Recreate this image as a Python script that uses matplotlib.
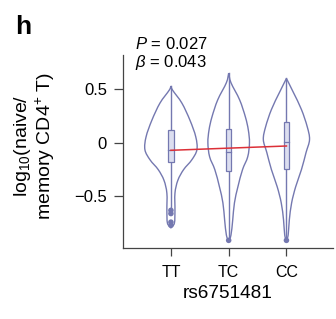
import numpy as np
import matplotlib.pyplot as plt
from matplotlib.path import Path
from matplotlib.patches import PathPatch, Rectangle

plt.rcParams["font.family"] = ["Liberation Sans", "DejaVu Sans"]
plt.rcParams["mathtext.fontset"] = "custom"
plt.rcParams["mathtext.rm"] = "Liberation Sans"
plt.rcParams["mathtext.it"] = "Liberation Sans:italic"

GENOTYPES = ["TT", "TC", "CC"]

# violin outlines: (value, half width in x units)
VIOLIN_Y = [
    [0.53, 0.49, 0.37, 0.21, 0.056, -0.065, -0.16, -0.25, -0.35, -0.47, -0.63, -0.75, -0.79],
    [0.65, 0.56, 0.40, 0.24, 0.12, 0.0, -0.13, -0.25, -0.41, -0.56, -0.72, -0.86, -0.92],
    [0.60, 0.47, 0.31, 0.15, 0.03, -0.09, -0.25, -0.41, -0.56, -0.72, -0.86, -0.91],
]
VIOLIN_W = [
    [0.0, 0.03, 0.19, 0.33, 0.43, 0.45, 0.36, 0.22, 0.12, 0.07, 0.07, 0.06, 0.0],
    [0.0, 0.04, 0.19, 0.29, 0.34, 0.36, 0.33, 0.24, 0.16, 0.10, 0.07, 0.04, 0.0],
    [0.0, 0.12, 0.26, 0.36, 0.40, 0.34, 0.26, 0.16, 0.09, 0.05, 0.03, 0.0],
]

# box stats: q1, median, q3, whisker low, whisker high
Q1 = [-0.18, -0.26, -0.24]
MED = [-0.07, -0.09, 0.01]
Q3 = [0.12, 0.13, 0.19]
WHIS_LO = [-0.60, -0.90, -0.90]
WHIS_HI = [0.53, 0.65, 0.60]
OUTLIERS = [[-0.63, -0.66, -0.74, -0.77], [-0.91], [-0.91]]

# regression line
FIT_X = [1, 3]
FIT_Y = [-0.07, -0.03]

VCOL = "#7478b0"
BOXFILL = "#dcdef0"


def smooth_path(xs, ys):
    # catmull-rom -> cubic bezier through given points
    pts = np.column_stack([xs, ys])
    verts = [pts[0]]
    codes = [Path.MOVETO]
    n = len(pts)
    for i in range(n - 1):
        p0 = pts[max(i - 1, 0)]
        p1 = pts[i]
        p2 = pts[i + 1]
        p3 = pts[min(i + 2, n - 1)]
        c1 = p1 + (p2 - p0) / 6
        c2 = p2 - (p3 - p1) / 6
        verts += [c1, c2, p2]
        codes += [Path.CURVE4] * 3
    return Path(verts, codes)


fig = plt.figure(figsize=(3.36, 3.19), dpi=100)
ax = fig.add_axes([0.366, 0.223, 0.624, 0.605])

for i in range(3):
    xc = i + 1
    vy = np.array(VIOLIN_Y[i])
    vw = np.array(VIOLIN_W[i])
    xs = np.concatenate([xc - vw, (xc + vw)[::-1]])
    ys = np.concatenate([vy, vy[::-1]])
    ax.add_patch(PathPatch(smooth_path(xs, ys), fill=False, edgecolor=VCOL,
                           lw=1.0, zorder=2))
    # whiskers
    ax.plot([xc, xc], [Q3[i], WHIS_HI[i]], color=VCOL, lw=1.0, zorder=3)
    ax.plot([xc, xc], [WHIS_LO[i], Q1[i]], color=VCOL, lw=1.0, zorder=3)
    bw = 0.09
    ax.add_patch(Rectangle((xc - bw / 2, Q1[i]), bw, Q3[i] - Q1[i],
                           facecolor=BOXFILL, edgecolor=VCOL, lw=0.9, zorder=3))
    ax.plot([xc - bw / 2, xc + bw / 2], [MED[i], MED[i]], color=VCOL, lw=0.9, zorder=4)
    ax.scatter([xc] * len(OUTLIERS[i]), OUTLIERS[i], s=16, color=VCOL,
               edgecolors="none", zorder=4)

ax.plot(FIT_X, FIT_Y, color="#dc3038", lw=1.1, zorder=5)

ax.set_xlim(0.17, 3.8)
ax.set_ylim(-0.98, 0.82)
ax.set_xticks([1, 2, 3])
ax.set_xticklabels(GENOTYPES)
ax.set_yticks([-0.5, 0, 0.5])
ax.set_yticklabels(["\u22120.5", "0", "0.5"])
for s in ["top", "right"]:
    ax.spines[s].set_visible(False)
for s in ["left", "bottom"]:
    ax.spines[s].set_color("#444444")
    ax.spines[s].set_linewidth(0.9)
ax.tick_params(axis="both", length=6.5, width=0.9, color="#444444", pad=5)
ax.tick_params(axis="y", labelsize=12)
ax.tick_params(axis="x", labelsize=11.5, length=6, pad=6)
ax.set_xlabel("rs6751481", fontsize=13.7, labelpad=4)

fig.text(0.103, 0.542, "log$_{10}$(naive/\nmemory CD4$^{+}$ T)", fontsize=14,
         rotation=90, ha="center", va="center", linespacing=1.0)
fig.text(0.045, 0.952, "h", fontsize=19, fontweight="bold", va="top")
fig.text(0.402, 0.887, "$P$ = 0.027\n$\\beta$ = 0.043", fontsize=12,
         va="top", linespacing=1.05)

fig.savefig("out.png", dpi=100)
